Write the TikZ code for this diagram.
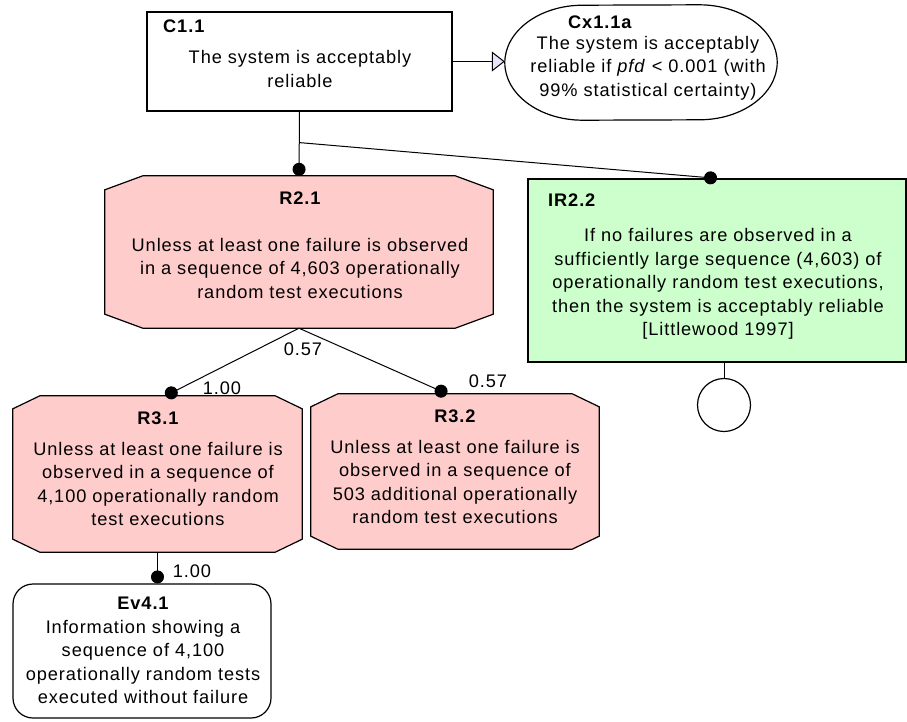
\documentclass[tikz,border=0pt]{standalone}
\usepackage{fontspec}
\setmainfont[LetterSpace=5]{Liberation Sans}
\usetikzlibrary{calc, positioning, arrows.meta, backgrounds}

\definecolor{rulefill}{RGB}{255,204,204}
\definecolor{infill}{RGB}{204,255,204}
\definecolor{ctxtip}{RGB}{230,230,250}

% octagon drawn round an empty frame node: name, x cut, y cut, fill
\newcommand\chamferbox[4]{%
  \draw[line width=1.2pt, fill=#4]
    ($(#1.north west)+(#2,0)$) -- ($(#1.north east)+(-#2,0)$)
    -- ($(#1.north east)+(0,#3)$) -- ($(#1.south east)+(0,-#3)$)
    -- ($(#1.south east)+(-#2,0)$) -- ($(#1.south west)+(#2,0)$)
    -- ($(#1.south west)+(0,-#3)$) -- ($(#1.north west)+(0,#3)$)
    -- cycle;}

\begin{document}
\begin{tikzpicture}[x=1pt, y=-1pt,
  every node/.style={inner sep=0pt, font=\fontsize{18.2}{23.5}\selectfont},
  frame/.style={inner sep=0pt},
  claim/.style={frame, draw, line width=1.2pt},
  irule/.style={claim, fill=infill},
  idtag/.style={font=\fontsize{18.2}{23.5}\selectfont\bfseries},
  body/.style={align=center},
  support/.style={line width=1pt, -{Circle[length=13pt]}},
  incontext/.style={line width=1pt, -{Triangle[fill=ctxtip, length=13pt, width=20pt]}}]

  \useasboundingbox (0,0) rectangle (907,721);

  % Top claim and its context
  \node[claim, minimum width=305pt, minimum height=99pt] (c11) at (299.5,61.5) {};
  \node[idtag, anchor=west] (c11id) at (163,26) {C1.1};
  \node[body] (c11txt) at (300,69) {The system is acceptably\\reliable};

  \node[frame, minimum width=272pt, minimum height=115pt] (cx11a) at (641,62.5) {};
  \draw[line width=1.2pt, fill=white] ($(cx11a.south west)+(78,0)$)
    arc[start angle=270, end angle=90, x radius=78pt, y radius=57.5pt]
    -- ($(cx11a.north east)+(-78,0)$)
    arc[start angle=90, end angle=-90, x radius=78pt, y radius=57.5pt] -- cycle;
  \node[idtag, anchor=west] (cx11aid) at (568,22) {Cx1.1a};
  \node[body] (cx11atxt) at (648,68)
    {The system is acceptably\\reliable if \textit{pfd} < 0.001 (with\\99\% statistical certainty)};
  \draw[incontext] (c11.east) -- (c11.east -| cx11a.west);

  % Rule R2.1 and inference rule IR2.2
  \node[frame, minimum width=388pt, minimum height=152pt] (r21) at (299,252) {};
  \chamferbox{r21}{38}{14}{rulefill}
  \node[idtag] (r21id) at (300,198) {R2.1};
  \node[body] (r21txt) at (300,268)
    {Unless at least one failure is observed\\in a sequence of 4,603 operationally\\random test executions};

  \node[irule, minimum width=378pt, minimum height=183pt] (ir22) at (717,270.5) {};
  \node[idtag, anchor=west] (ir22id) at (548,200) {IR2.2};
  \node[body] (ir22txt) at (718,284)
    {If no failures are observed in a\\sufficiently large sequence (4,603) of\\operationally random test executions,\\then the system is acceptably reliable\\{[Littlewood 1997]}};
  \node[draw, circle, line width=1.2pt, minimum size=53pt] (ir22ctx) at (724,405) {};
  \draw[line width=1pt] (ir22ctx.north |- ir22.south) -- (ir22ctx.north);

  \coordinate (split) at ($(c11.south)+(0,31)$);
  \draw[support] (c11.south) -- (r21.north);
  \draw[support] (split) -- (ir22.north);

  % Sub-rules R3.1 and R3.2
  \node[frame, minimum width=289pt, minimum height=156pt] (r31) at (157.5,474) {};
  \chamferbox{r31}{27}{13}{rulefill}
  \node[idtag] (r31id) at (158,418) {R3.1};
  \node[body] (r31txt) at (158,484)
    {Unless at least one failure is\\observed in a sequence of\\4,100 operationally random\\test executions};

  \node[frame, minimum width=288pt, minimum height=155pt] (r32) at (455,471.5) {};
  \chamferbox{r32}{27}{13}{rulefill}
  \node[idtag] (r32id) at (455,416) {R3.2};
  \node[body] (r32txt) at (455,482)
    {Unless at least one failure is\\observed in a sequence of\\503 additional operationally\\random test executions};

  \draw[support] (r21.south) -- ($(r31.north)+(8,0)$);
  \draw[support] (r21.south) -- ($(r32.north)+(-8,0)$);
  \node (w21) at (303,349) {0.57};
  \node (w31) at (222,388) {1.00};
  \node (w32) at (488,381) {0.57};

  % Evidence Ev4.1
  \node[claim, rounded corners=20pt, minimum width=258pt, minimum height=134pt] (ev41) at (142,651) {};
  \node[idtag] (ev41id) at (143,603) {Ev4.1};
  \node[body] (ev41txt) at (143,662)
    {Information showing a\\sequence of 4,100\\operationally random tests\\executed without failure};
  \draw[support] (r31.south) -- (r31.south |- ev41.north);
  \node (w41) at (192,571) {1.00};
\end{tikzpicture}
\end{document}
